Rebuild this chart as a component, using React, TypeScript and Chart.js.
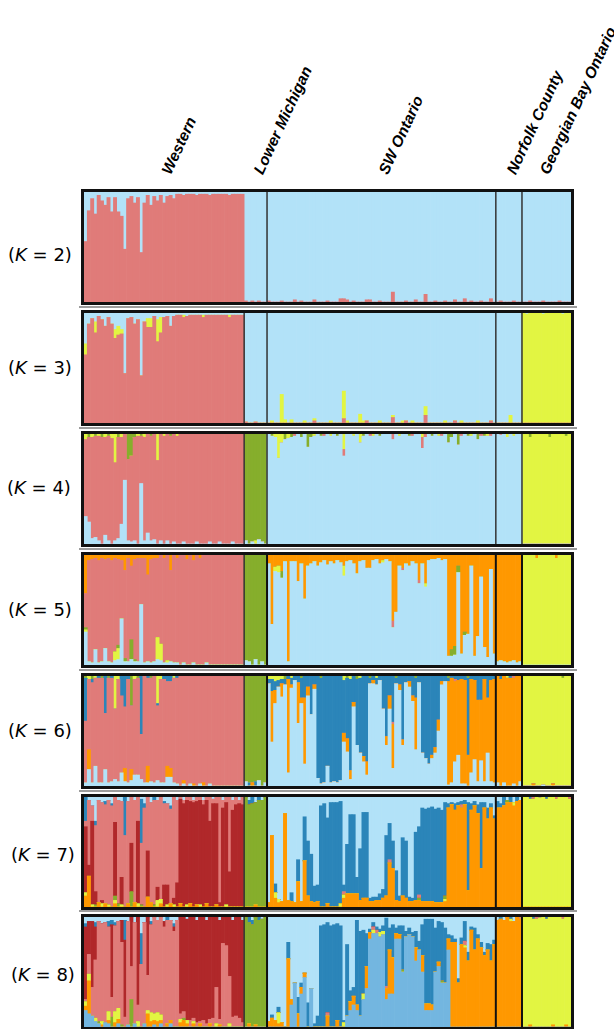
import React, { useEffect, useRef } from "react";
import { Chart, registerables } from "chart.js";

Chart.register(...registerables);

type Pair = [number, number];

// ---------------- data ----------------
const POPULATIONS = ["Western", "Lower Michigan", "SW Ontario", "Norfolk County", "Georgian Bay Ontario"];
const POP_SIZES = [49, 7, 70, 8, 15]; // individuals per population (index ranges: 0-48, 49-55, 56-125, 126-133, 134-148)
const K_VALUES = [2, 3, 4, 5, 6, 7, 8];

const CLUSTER_COLORS: Record<string, string> = {
  R: "#E07B79",
  LB: "#B2E2F8",
  Y: "#E2F542",
  G: "#86AE2C",
  O: "#FF9800",
  DB: "#2B85B9",
  DR: "#B0282A",
  MB: "#73B6E0",
};

// membership (%) given as [individual, value]; the population's main cluster takes the rest
const K2_FILL = ["R", "LB", "LB", "LB", "LB"];
const K2_LB: Pair[] = [[0,45],[1,17],[2,6],[3,20],[4,3],[5,8],[6,12],[7,5],[8,18],[9,5],[10,18],[11,22],[12,52],[13,6],[14,4],[15,10],[16,5],[17,55],[18,10],[19,3],[20,12],[21,4],[22,8],[23,3],[24,10],[25,4],[26,3],[27,6],[28,2],[29,2],[30,3],[31,2],[32,2],[33,2],[34,3],[35,2],[36,2],[37,2],[38,3],[39,2],[40,2],[41,2],[42,2],[43,2],[44,3],[45,2],[46,2],[47,2],[48,2]];
const K2_R: Pair[] = [[49,1],[51,1],[53,1],[56,1],[60,1],[64,2],[66,1],[70,2],[74,1],[78,3],[79,3],[80,2],[82,1],[86,2],[87,2],[90,1],[94,9],[98,1],[101,2],[104,7],[107,1],[110,1],[113,2],[116,3],[118,1],[121,1],[124,3],[127,1],[131,1],[136,1],[140,1],[145,1]];

const K3_FILL = ["R", "LB", "LB", "LB", "Y"];
const K3_LB: Pair[] = [[0,28],[1,10],[2,5],[3,8],[4,3],[5,6],[6,12],[7,4],[8,10],[9,15],[10,12],[11,15],[12,55],[13,5],[14,4],[15,10],[16,6],[17,57],[18,8],[19,5],[20,5],[21,3],[22,6],[23,4],[24,4],[25,3],[26,12],[27,3],[28,2],[29,2],[30,2],[31,3],[32,2],[33,2],[34,2],[35,2],[36,2],[37,2],[38,2],[39,2],[40,2],[41,2],[42,2],[43,2],[44,2],[45,2],[46,2],[47,2],[48,2],[135,1],[140,1],[146,1]];
const K3_Y: Pair[] = [[0,10],[3,10],[9,8],[10,8],[11,4],[19,8],[20,8],[22,20],[23,14],[30,2],[36,2],[44,2],[57,2],[60,26],[61,3],[63,3],[67,2],[70,2],[75,2],[79,25],[80,2],[84,8],[85,2],[90,2],[94,2],[97,2],[100,2],[104,8],[110,2],[115,2],[120,2],[130,7]];
const K3_R: Pair[] = [[49,1],[52,1],[70,2],[79,4],[86,2],[94,5],[98,2],[104,7],[113,2],[124,2]];

const K4_FILL = ["R", "G", "LB", "LB", "Y"];
const K4_LB: Pair[] = [[0,25],[1,20],[2,5],[3,6],[4,3],[6,8],[7,3],[9,3],[10,5],[11,18],[12,58],[13,3],[14,2],[15,3],[17,55],[18,3],[19,10],[20,3],[21,4],[23,3],[25,3],[27,2],[30,2],[34,2],[38,2],[41,2],[45,2],[49,3],[51,2],[53,4],[54,2]];
const K4_Y: Pair[] = [[0,5],[2,3],[4,2],[6,3],[8,4],[9,26],[11,3],[16,2],[18,3],[22,24],[24,2],[28,2],[52,3],[58,3],[59,22],[60,8],[62,4],[70,2],[75,2],[79,14],[82,2],[84,8],[88,2],[96,2],[103,3],[108,2],[118,2],[123,2],[129,3],[131,2]];
const K4_G: Pair[] = [[1,3],[3,2],[5,3],[7,2],[10,3],[13,23],[14,20],[15,3],[17,2],[20,2],[26,2],[57,2],[61,5],[63,3],[66,3],[68,12],[69,3],[72,2],[77,2],[85,2],[90,2],[99,2],[106,2],[111,8],[112,3],[114,10],[117,2],[120,5],[122,2],[136,3],[142,3],[147,2]];
const K4_R: Pair[] = [[64,2],[73,2],[79,6],[87,2],[94,5],[100,2],[103,10],[104,3],[109,2],[115,2],[121,2],[124,2],[127,1]];

const K5_FILL = ["R", "G", "LB", "O", "Y"];
const K5_O: Pair[] = [[0,35],[1,5],[2,4],[3,3],[4,5],[5,3],[6,4],[7,3],[8,5],[9,3],[10,4],[11,5],[12,14],[13,3],[14,10],[15,4],[16,3],[17,3],[18,3],[19,18],[20,4],[21,3],[22,3],[24,3],[26,14],[28,3],[31,4],[33,5],[35,3],
  [56,8],[57,63],[58,11],[59,10],[60,15],[61,6],[62,97],[63,6],[64,6],[65,24],[66,8],[67,40],[68,10],[69,8],[70,6],[71,10],[72,7],[73,5],[74,9],[75,6],[76,8],[77,5],[78,7],[79,10],[80,6],[81,5],[82,8],[83,17],[84,6],[85,5],[86,12],[87,12],[88,5],[89,4],[90,8],[91,5],[92,4],[93,6],[94,60],[95,52],[96,10],[97,12],[98,8],[99,10],[100,6],[101,8],[102,23],[103,8],[104,26],[105,5],[106,4],[107,4],[108,3],[109,5],[110,4],
  [111,92],[112,86],[113,83],[114,10],[115,90],[116,70],[117,72],[118,10],[119,92],[120,74],[121,20],[122,84],[123,93],[124,13],[125,90],[138,3],[144,3]];
const K5_LB: Pair[] = [[0,30],[1,3],[2,2],[3,14],[4,2],[5,3],[6,15],[7,3],[8,2],[9,4],[10,5],[11,42],[12,3],[13,3],[14,5],[15,3],[16,3],[17,55],[18,2],[19,3],[20,2],[21,3],[22,5],[23,4],[24,2],[25,2],[26,3],[27,2],[28,2],[30,2],[33,2],[37,2],[49,4],[50,3],[52,5],[54,3],[126,3],[127,4],[128,3],[129,2],[130,3],[131,4],[132,2],[133,3]];
const K5_Y: Pair[] = [[0,2],[9,8],[10,10],[22,20],[23,15],[25,2],[58,4],[59,6],[79,9],[91,2],[104,3]];
const K5_G: Pair[] = [[0,2],[10,3],[12,3],[14,18],[15,2],[60,6],[112,6],[113,8],[114,6],[116,3]];
const K5_R: Pair[] = [[94,6],[97,2],[102,3]];

const K6_FILL = ["R", "G", "LB", "O", "Y"];
const K6_DB: Pair[] = [[0,39],[2,3],[4,2],[6,34],[8,2],[11,18],[12,28],[13,3],[17,53],[19,2],[22,2],[24,3],[25,5],[26,5],[28,2],[50,3],[52,4],
  [56,4],[57,11],[58,8],[59,6],[60,4],[61,5],[62,3],[63,6],[64,4],[65,6],[66,18],[67,20],[68,10],[69,35],[70,8],[71,93],[72,96],[73,97],[74,82],[75,97],[76,96],[77,97],[78,95],[79,48],[80,55],[81,83],[82,24],[83,60],[84,68],[85,73],[86,78],[87,5],[88,4],[89,6],[90,4],[91,30],[92,55],[93,18],[94,42],[95,5],[96,8],[97,58],[98,6],[99,5],[100,18],[101,18],[102,6],[103,70],[104,75],[105,80],[106,72],[107,65],[108,40],[109,5],[110,5],[111,3],[112,2],[113,3],[114,4],[115,3],[116,4],[117,70],[118,3],[119,4],[120,22],[121,22],[122,3],[123,20],[124,4],[125,3],[127,3],[130,2]];
const K6_O: Pair[] = [[1,18],[12,12],[14,10],[19,15],[25,10],[26,8],[30,3],[33,2],[36,3],[51,3],
  [57,46],[58,12],[60,12],[62,85],[63,3],[65,37],[66,5],[67,60],[68,8],[70,4],[79,8],[80,12],[81,8],[82,4],[85,5],[86,12],[88,3],[92,8],[93,12],[94,40],[96,5],[97,5],[99,5],[100,5],[101,47],[106,3],[107,5],[108,10],[109,3],
  [111,94],[112,95],[113,73],[114,68],[115,95],[116,94],[117,28],[118,85],[119,72],[120,74],[121,55],[122,93],[123,50],[124,92],[125,94],[137,2],[143,2]];
const K6_LB: Pair[] = [[0,3],[1,15],[2,3],[3,18],[4,3],[5,3],[6,15],[7,3],[8,4],[9,6],[10,4],[11,12],[12,4],[13,3],[14,5],[15,10],[16,10],[17,6],[18,3],[19,3],[20,4],[21,3],[22,5],[23,3],[24,3],[25,8],[26,8],[27,3],[28,2],[30,2],[32,2],[35,2],[38,2],[49,4],[53,5],[55,3],[126,3],[128,3],[131,2],[133,4],[140,1]];
const K6_Y: Pair[] = [[1,3],[3,2],[9,30],[10,3],[15,3],[22,25],[23,3],[27,2],[56,3],[57,3],[58,5],[59,4],[60,3],[63,2],[79,4],[81,3],[84,2],[89,2],[129,2]];
const K6_G: Pair[] = [[0,2],[2,3],[5,2],[7,2],[14,27],[16,2],[20,2],[61,3],[66,2],[72,2],[80,2],[83,3],[87,2],[95,2],[101,2],[111,2],[117,2],[146,2]];
const K6_R: Pair[] = [[94,2],[113,2],[131,2]];

const K7_FILL = ["R", "G", "LB", "O", "Y"];
const K7_DR: Pair[] = [[0,60],[1,10],[2,76],[3,12],[5,3],[9,67],[11,25],[14,44],[16,75],[19,42],[22,12],[24,20],[25,18],[27,6],[28,22],
  [29,95],[30,94],[31,95],[32,93],[33,95],[34,94],[35,95],[36,93],[37,94],[38,78],[39,94],[40,92],[41,4],[42,90],[43,93],[44,32],[45,88],[46,93],[47,94],[48,93]];
const K7_R: Pair[] = [[79,3],[93,3],[102,3],[115,3],[137,2],[144,2],[148,2]];
const K7_DB: Pair[] = [[0,22],[3,4],[6,3],[8,2],[12,35],[17,40],[18,4],[21,3],[24,2],[26,3],[50,4],[51,6],[53,3],
  [58,8],[63,8],[65,20],[67,40],[68,50],[69,43],[70,15],[71,15],[72,92],[73,94],[74,78],[75,95],[76,95],[77,95],[78,93],[79,6],[80,45],[81,72],[82,72],[83,15],[84,47],[85,78],[86,78],[87,3],[88,4],[89,3],[90,6],[91,8],[92,55],[93,33],[94,25],[95,27],[96,5],[97,53],[98,52],[99,4],[100,3],[101,62],[102,62],[103,85],[104,84],[105,85],[106,86],[107,85],[108,86],[109,84],[110,85],[111,4],[112,2],[113,6],[114,3],[115,3],[116,4],[117,80],[118,6],[119,4],[120,8],[121,60],[122,5],[123,10],[124,4],[125,3],[126,6],[127,4],[128,8],[130,5],[132,4],[136,2],[141,2]];
const K7_O: Pair[] = [[0,10],[1,28],[4,4],[6,3],[9,3],[13,3],[15,4],[19,9],[20,4],[23,3],[26,3],[29,3],[32,3],[34,2],[37,3],[40,2],[52,2],
  [56,4],[57,65],[58,8],[59,4],[60,5],[61,85],[62,6],[63,5],[64,4],[65,23],[66,5],[67,42],[68,10],[69,5],[70,4],[71,5],[74,3],[79,8],[80,12],[81,12],[82,12],[83,12],[84,6],[85,8],[86,8],[87,5],[88,5],[89,6],[90,6],[91,8],[92,10],[93,40],[94,35],[95,6],[96,5],[97,10],[98,8],[99,5],[100,5],[101,6],[102,6],[103,5],[104,5],[105,5],[106,5],[107,4],[108,4],[109,4],[110,5],
  [111,90],[112,93],[113,88],[114,92],[115,90],[116,93],[117,15],[118,88],[119,92],[120,85],[121,35],[122,90],[123,80],[124,90],[125,80]];
const K7_Y: Pair[] = [[0,3],[2,2],[5,3],[7,2],[9,3],[11,2],[16,3],[22,6],[23,4],[25,2],[27,2],[31,2],[35,2],[43,2],[58,5],[59,3],[78,3],[79,3],[110,2],[131,3]];
const K7_G: Pair[] = [[3,2],[9,4],[10,3],[14,14],[17,2],[21,2],[102,2],[110,3],[129,2]];
const K7_LB: Pair[] = [[1,3],[2,8],[3,22],[4,3],[5,5],[6,4],[7,3],[8,6],[10,3],[11,4],[13,4],[15,3],[17,2],[18,6],[20,5],[22,3],[24,4],[25,6],[26,8],[28,3],[30,3],[33,3],[36,3],[39,2],[42,3],[45,3],[47,3],[50,3],[52,5],[54,3],[126,4],[127,6],[129,3],[131,5],[133,3],[139,1]];

const K8_FILL = ["R", "G", "LB", "O", "Y"];
const K8_DR: Pair[] = [[0,66],[1,30],[2,60],[3,30],[8,66],[11,20],[12,70],[14,45],[16,80],[19,53],[24,5],[27,4],
  [29,88],[30,86],[31,92],[32,94],[33,92],[34,93],[35,95],[36,94],[37,94],[38,93],[39,92],[40,64],[41,90],[42,24],[43,26],[44,54],[45,88],[46,90],[47,92],[48,93]];
const K8_MB: Pair[] = [[0,15],[1,12],[2,10],[3,5],[4,3],[6,4],[7,3],[10,3],[13,2],[15,3],[18,3],[21,2],[23,3],[26,3],
  [63,20],[64,40],[66,30],[67,45],[69,35],[80,10],[81,15],[82,20],[83,15],[84,10],[85,25],[86,35],[87,80],[88,85],[89,85],[90,82],[91,84],[92,25],[93,30],[94,30],[95,80],[96,80],[97,50],[98,82],[99,84],[100,82],[101,60],[102,70],[103,50],[104,15],[105,15],[106,15],[107,50],[108,55],[109,40],[110,40],[111,70]];
const K8_DB: Pair[] = [[0,3],[3,4],[7,5],[8,4],[9,3],[12,18],[17,28],[20,3],[25,3],[27,3],[50,5],[51,4],[53,3],
  [57,3],[59,5],[62,15],[65,15],[66,4],[68,22],[70,3],[71,10],[72,92],[73,93],[74,82],[75,92],[76,93],[77,88],[78,92],[79,2],[80,65],[81,10],[82,8],[83,77],[84,77],[85,58],[86,30],[87,3],[88,4],[89,3],[90,3],[91,5],[92,62],[93,20],[94,30],[95,5],[96,8],[97,40],[98,5],[99,6],[100,4],[101,15],[102,8],[103,28],[104,77],[105,77],[106,78],[107,40],[108,37],[109,53],[110,50],[111,4],[112,6],[113,3],[114,4],[115,6],[116,18],[117,8],[118,3],[119,20],[120,4],[121,5],[122,3],[123,6],[124,15],[125,4],[127,2],[130,2],[137,2],[141,2]];
const K8_O: Pair[] = [[0,4],[1,30],[5,2],[7,3],[9,4],[10,4],[19,12],[20,5],[21,4],[22,5],[23,3],[25,3],[26,3],[29,4],[30,6],[31,3],[33,3],[35,3],[38,3],[41,2],[50,3],[52,2],
  [56,5],[57,8],[58,6],[59,3],[60,4],[62,62],[63,5],[65,12],[66,6],[67,4],[74,10],[77,6],[81,8],[82,8],[83,5],[86,20],[87,6],[92,10],[93,40],[94,33],[95,5],[96,4],[101,12],[103,15],[104,6],[105,6],[106,5],[108,4],[111,10],
  [112,77],[113,77],[114,40],[115,75],[116,72],[117,60],[118,88],[119,70],[120,80],[121,72],[122,65],[123,70],[124,60],[125,75],[136,2],[143,2],[147,2]];
const K8_Y: Pair[] = [[0,4],[1,6],[3,3],[5,3],[7,8],[9,10],[10,10],[16,5],[19,3],[20,8],[21,6],[22,8],[23,5],[29,3],[31,3],[33,2],[40,3],[44,3],[59,10],[79,4],[85,5],[88,3],[90,4],[91,3],[116,2],[130,2]];
const K8_G: Pair[] = [[4,2],[8,9],[11,2],[14,25],[30,2],[97,2],[109,2]];
const K8_R: Pair[] = [[74,3],[88,3],[89,3],[92,2],[116,4],[133,2],[138,2],[146,2]];
const K8_LB: Pair[] = [[0,6],[1,4],[2,4],[3,5],[4,4],[5,6],[6,5],[7,4],[8,3],[9,5],[10,4],[11,3],[12,3],[13,4],[15,5],[17,15],[18,5],[20,4],[22,3],[24,4],[26,3],[27,6],[28,3],[31,3],[34,3],[37,3],[41,3],[45,3],[48,3],[51,3],[54,2],[126,3],[128,3],[131,4],[139,1]];

// stacking order (bottom -> top) for each K
const PANELS = [
  { k: K_VALUES[0], order: ["R", "LB"], fill: K2_FILL, parts: { R: K2_R, LB: K2_LB } },
  { k: K_VALUES[1], order: ["R", "Y", "LB"], fill: K3_FILL, parts: { R: K3_R, Y: K3_Y, LB: K3_LB } },
  { k: K_VALUES[2], order: ["LB", "R", "Y", "G"], fill: K4_FILL, parts: { LB: K4_LB, R: K4_R, Y: K4_Y, G: K4_G } },
  { k: K_VALUES[3], order: ["LB", "Y", "G", "R", "O"], fill: K5_FILL, parts: { LB: K5_LB, Y: K5_Y, G: K5_G, R: K5_R, O: K5_O } },
  { k: K_VALUES[4], order: ["LB", "O", "R", "DB", "Y", "G"], fill: K6_FILL, parts: { LB: K6_LB, O: K6_O, R: K6_R, DB: K6_DB, Y: K6_Y, G: K6_G } },
  { k: K_VALUES[5], order: ["O", "Y", "G", "DR", "R", "DB", "LB"], fill: K7_FILL, parts: { O: K7_O, Y: K7_Y, G: K7_G, DR: K7_DR, R: K7_R, DB: K7_DB, LB: K7_LB } },
  { k: K_VALUES[6], order: ["MB", "O", "Y", "G", "R", "DR", "DB", "LB"], fill: K8_FILL, parts: { MB: K8_MB, O: K8_O, Y: K8_Y, G: K8_G, R: K8_R, DR: K8_DR, DB: K8_DB, LB: K8_LB } },
];

// ---------------- layout ----------------
const PLOT_LEFT = 84;
const PLOT_WIDTH = 487;
const BORDER = 3;
const PANEL_TOPS = [189, 310, 431, 552, 673, 794, 914];
const PANEL_HEIGHT = 116;
const K_LABEL_Y = [255, 368, 488, 610, 731, 855, 975];
const K_LABEL_X = [8, 8, 7, 8, 8, 11, 11];
const POP_LABEL_BASE_Y = 176;
const POP_LABEL_SHIFT = [9, 9, 9, 9, 5];

const N_IND = POP_SIZES.reduce((a, b) => a + b, 0);
const POP_OF: number[] = [];
POP_SIZES.forEach((s, p) => { for (let j = 0; j < s; j++) POP_OF.push(p); });

function buildSeries(panel: any): Record<string, number[]> {
  const series: Record<string, number[]> = {};
  panel.order.forEach((c: string) => { series[c] = new Array(N_IND).fill(0); });
  for (const c of panel.order) {
    const list: Pair[] = panel.parts[c] || [];
    for (const [i, v] of list) {
      if (panel.fill[POP_OF[i]] !== c) series[c][i] = v;
    }
  }
  for (let i = 0; i < N_IND; i++) {
    const f = panel.fill[POP_OF[i]];
    let s = 0;
    for (const c of panel.order) if (c !== f) s += series[c][i];
    series[f][i] = Math.max(0, 100 - s);
  }
  return series;
}

function makeBoundaryPlugin(skipFirst: boolean, heavy: boolean) {
  return {
    id: "popBoundaries",
    afterDatasetsDraw(chart: any) {
      const xs = chart.scales.x;
      const { top, bottom } = chart.chartArea;
      const ctx = chart.ctx;
      ctx.save();
      let acc = 0;
      POP_SIZES.slice(0, -1).forEach((s, idx) => {
        acc += s;
        if (skipFirst && idx === 0) return;
        const px = (xs.getPixelForValue(acc - 1) + xs.getPixelForValue(acc)) / 2;
        ctx.strokeStyle = heavy && idx > 0 ? "#111" : "#333";
        ctx.lineWidth = heavy && idx > 0 ? 2 : 1.5;
        ctx.beginPath();
        ctx.moveTo(px, top);
        ctx.lineTo(px, bottom);
        ctx.stroke();
      });
      ctx.restore();
    },
  };
}

function Panel({ panel, index }: { panel: any; index: number }) {
  const ref = useRef<HTMLCanvasElement>(null);
  const innerH = PANEL_HEIGHT - 2 * BORDER;
  useEffect(() => {
    const series = buildSeries(panel);
    const labels = Array.from({ length: N_IND }, (_, i) => String(i + 1));
    const chart = new Chart(ref.current as HTMLCanvasElement, {
      type: "bar",
      data: {
        labels,
        datasets: panel.order.map((c: string) => ({
          label: c,
          data: series[c],
          backgroundColor: CLUSTER_COLORS[c],
          borderWidth: 0,
          barPercentage: 1,
          categoryPercentage: 1,
          stack: "q",
        })),
      },
      options: {
        animation: false,
        responsive: false,
        devicePixelRatio: 1,
        events: [],
        layout: { padding: 0 },
        plugins: { legend: { display: false }, tooltip: { enabled: false } },
        scales: {
          x: { display: false, stacked: true, grid: { display: false } },
          y: { display: false, stacked: true, min: 0, max: 100, grid: { display: false } },
        },
      },
      plugins: [makeBoundaryPlugin(index === 0, index >= 3)],
    } as any);
    return () => chart.destroy();
  }, []);
  return (
    <>
      {index > 0 && (
        <div style={{ position: "absolute", left: 79, top: PANEL_TOPS[index] - 4, width: 498, height: 2, background: "#9c9c9c" }} />
      )}
      <div
        style={{
          position: "absolute",
          left: PLOT_LEFT - BORDER,
          top: PANEL_TOPS[index],
          width: PLOT_WIDTH + 2 * BORDER,
          height: PANEL_HEIGHT,
          boxSizing: "border-box",
          border: `${BORDER}px solid #111`,
          background: "#fff",
        }}
      >
        <canvas ref={ref} width={PLOT_WIDTH} height={innerH} style={{ display: "block", width: PLOT_WIDTH, height: innerH }} />
      </div>
      <div
        style={{
          position: "absolute",
          left: K_LABEL_X[index],
          top: K_LABEL_Y[index] - 11,
          height: 22,
          lineHeight: "22px",
          fontFamily: "'DejaVu Sans', sans-serif",
          fontSize: 18,
          color: "#000",
          whiteSpace: "nowrap",
        }}
      >
        (<i>K</i> = {panel.k})
      </div>
    </>
  );
}

export default function App() {
  const barW = PLOT_WIDTH / N_IND;
  let acc = 0;
  const centers = POP_SIZES.map((s) => {
    const c = PLOT_LEFT + (acc + s / 2) * barW;
    acc += s;
    return c;
  });
  const fs = 15.5;
  return (
    <div style={{ position: "absolute", left: 0, top: 0, width: 614, height: 1029, overflow: "hidden", background: "#fff" }}>
      {POPULATIONS.map((name, i) => (
        <div
          key={name}
          style={{
            position: "absolute",
            left: centers[i] + POP_LABEL_SHIFT[i],
            top: POP_LABEL_BASE_Y - fs,
            height: fs,
            lineHeight: `${fs}px`,
            fontFamily: "'Liberation Sans', Arial, sans-serif",
            fontWeight: "bold",
            fontStyle: "italic",
            fontSize: fs,
            whiteSpace: "nowrap",
            transformOrigin: "0 100%",
            transform: "rotate(-65deg)",
            color: "#000",
          }}
        >
          {name}
        </div>
      ))}
      {PANELS.map((p, i) => (
        <Panel key={p.k} panel={p} index={i} />
      ))}
    </div>
  );
}
